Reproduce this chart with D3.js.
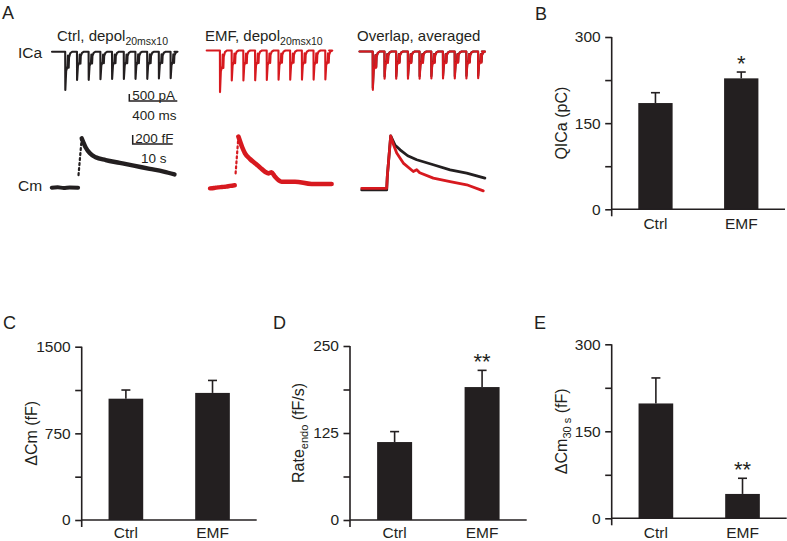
<!DOCTYPE html>
<html><head><meta charset="utf-8">
<script src="https://cdn.jsdelivr.net/npm/d3@7/dist/d3.min.js"></script>
<style>
body{margin:0;background:#fff;}
svg{display:block;}
text{font-family:Arial,"Liberation Sans",Helvetica,sans-serif;fill:#231f20;}
</style></head><body>
<svg id="c" width="787" height="541"></svg>
<script>
// ================= DATA =================
const categories = ["Ctrl", "EMF"];
// Panel B: QICa (pC)
const qicaMean = [185, 228];
const qicaSem  = [18, 11];
const qicaTicks = [0, 75, 150, 225, 300];
const qicaTickLabels = [0, 150, 300];
const qicaStars = ["", "*"];
// Panel C: ΔCm (fF)
const dcmMean = [1050, 1100];
const dcmSem  = [75, 108];
const dcmTicks = [0, 375, 750, 1125, 1500];
const dcmTickLabels = [0, 750, 1500];
const dcmStars = ["", ""];
// Panel D: Rate_endo (fF/s)
const rateMean = [112, 191];
const rateSem  = [15, 24];
const rateTicks = [0, 62.5, 125, 187.5, 250];
const rateTickLabels = [0, 125, 250];
const rateStars = ["", "**"];
// Panel E: ΔCm_30s (fF)
const dcm30Mean = [198, 42];
const dcm30Sem  = [44, 27];
const dcm30Ticks = [0, 75, 150, 225, 300];
const dcm30TickLabels = [0, 150, 300];
const dcm30Stars = ["", "**"];

// Panel A: ICa traces (ms, pA)
const pulseOnsets = [110, 208, 305, 403, 500, 598, 695, 793, 890, 988];
const icaTraceEnd = 1020;
const spikeTime = [0, 1, 8, 20, 23, 29, 32, 42, 58];          // ms after onset
const spikeFrac = [0, -1, -0.5, -0.38, -0.1, -0.42, -0.15, -0.04, 0]; // fraction of peak
const icaCtrlPeaks   = [2740, 2020, 2010, 1960, 1950, 1950, 1940, 1940, 1910, 1900];
const icaEmfPeaks    = [2970, 2140, 2140, 2130, 2100, 2090, 2090, 2080, 2080, 2070];
const icaAvgCtrlPeaks= [2610, 1790, 1780, 1780, 1770, 1770, 1760, 1760, 1750, 1750];
const icaAvgEmfPeaks = [2740, 1950, 1950, 1940, 1940, 1930, 1930, 1920, 1920, 1910];

// Panel A: Cm traces (s, fF)
const cmCtrlBaseT = [0, 1.5, 3, 4.5, 6.6];
const cmCtrlBaseV = [0, 10, -5, 5, 0];
const cmCtrlRiseT = [6.7, 7.5];
const cmCtrlRiseV = [360, 1410];
const cmCtrlDecayT = [7.5, 8.5, 9.5, 11, 13.5, 17, 20.5, 24.5, 28, 30.7];
const cmCtrlDecayV = [1410, 1150, 990, 870, 790, 710, 630, 540, 460, 380];

const cmEmfBaseT = [0, 1, 2, 3, 4, 5, 6.2];
const cmEmfBaseV = [-40, -30, -10, 0, 10, 30, 50];
const cmEmfRiseT = [6.4, 7.1];
const cmEmfRiseV = [390, 1440];
const cmEmfDecayT = [7.1, 8, 8.75, 10, 11.25, 12.5, 13.75, 14.7, 15.4, 16.2, 17.9, 21.25, 25.4, 30.4];
const cmEmfDecayV = [1440, 1150, 964, 800, 678, 560, 438, 390, 420, 300, 152, 152, 86, 86];

const cmAvgCtrlT = [0, 6.25, 6.4, 7.25, 8.3, 9.6, 11.5, 13.75, 17.9, 22.1, 26.25, 30.8];
const cmAvgCtrlV = [-45, -45, 340, 1500, 1240, 1100, 930, 815, 672, 529, 435, 292];
const cmAvgEmfT  = [0, 6.25, 6.4, 7.25, 8, 8.75, 10.4, 12.9, 13.75, 14.5, 17.9, 22.1, 26.25, 30.4];
const cmAvgEmfV  = [0, 0, 340, 1500, 1230, 1007, 721, 480, 529, 443, 292, 194, 100, -72];

// ================= DRAW =================
const svg = d3.select("#c");
const INK = "#231f20", RED = "#d7191f";

// ---- panel letters ----
const letters = [["A", 2, 18.5], ["B", 535, 19.5], ["C", 3, 328.5], ["D", 273, 328.5], ["E", 534, 328.5]];
svg.selectAll("text.letter").data(letters).join("text").attr("class", "letter")
  .attr("x", d => d[1]).attr("y", d => d[2]).attr("font-size", 18).text(d => d[0]);

// ---- bar panels ----
function barPanel(o) {
  const g = svg.append("g");
  const x = d3.scaleBand().domain(categories).range([o.x0, o.x1]).paddingInner(0.6).paddingOuter(0.31);
  const y = d3.scaleLinear().domain([0, o.max]).range([o.y0, o.yTop]);
  const bw = x.bandwidth();
  const rows = categories.map((c, i) => ({c, m: o.mean[i], e: o.sem[i], s: o.stars[i]}));
  // error bars
  g.selectAll("line.eb").data(rows).join("line").attr("class", "eb")
    .attr("x1", d => x(d.c) + bw / 2).attr("x2", d => x(d.c) + bw / 2)
    .attr("y1", d => y(d.m)).attr("y2", d => y(d.m + d.e))
    .attr("stroke", INK).attr("stroke-width", 1.6);
  g.selectAll("line.cap").data(rows).join("line").attr("class", "cap")
    .attr("x1", d => x(d.c) + bw / 2 - 4.5).attr("x2", d => x(d.c) + bw / 2 + 4.5)
    .attr("y1", d => y(d.m + d.e)).attr("y2", d => y(d.m + d.e))
    .attr("stroke", INK).attr("stroke-width", 1.6);
  // bars
  g.selectAll("rect").data(rows).join("rect")
    .attr("x", d => x(d.c)).attr("y", d => y(d.m))
    .attr("width", bw).attr("height", d => y(0) - y(d.m)).attr("fill", INK);
  // stars
  g.selectAll("text.star").data(rows.filter(d => d.s)).join("text").attr("class", "star")
    .attr("x", d => x(d.c) + bw / 2).attr("y", d => y(d.m + d.e) - 1)
    .attr("text-anchor", "middle").attr("font-size", 22).text(d => d.s);
  // y axis
  const ax = g.append("g").attr("transform", `translate(${o.x0},0)`)
    .call(d3.axisLeft(y).tickValues(o.ticks).tickSize(6.5).tickSizeOuter(0).tickPadding(4.5)
      .tickFormat(d => o.labels.includes(d) ? d3.format("d")(d) : ""));
  ax.select(".domain").remove();
  ax.selectAll(".tick line").attr("stroke", INK).attr("stroke-width", 1.6);
  ax.selectAll(".tick text").attr("font-size", 15.5).attr("fill", INK)
    .attr("font-family", "Arial, 'Liberation Sans', sans-serif");
  g.append("line").attr("x1", o.x0).attr("x2", o.x0).attr("y1", o.yTop).attr("y2", o.y0 + 7)
    .attr("stroke", INK).attr("stroke-width", 1.6);
  // x axis
  g.append("line").attr("x1", o.x0).attr("x2", o.x1).attr("y1", o.y0).attr("y2", o.y0)
    .attr("stroke", INK).attr("stroke-width", 1.6);
  g.selectAll("text.cat").data(categories).join("text").attr("class", "cat")
    .attr("x", d => x(d) + bw / 2).attr("y", Math.min(o.y0 + 19.5, 537.5))
    .attr("text-anchor", "middle").attr("font-size", 15.5).text(d => d);
  // y title
  const t = g.append("text")
    .attr("transform", `translate(${o.x0 - o.titleOff},${(o.y0 + o.yTop) / 2}) rotate(-90)`)
    .attr("text-anchor", "middle").attr("font-size", 16);
  o.title.forEach(p => {
    const ts = t.append("tspan").text(p[0]);
    if (p[1] === "sub") ts.attr("font-size", 11).attr("dy", 4);
    if (p[1] === "after") ts.attr("dy", -4);
  });
}

barPanel({x0: 611.7, x1: 785, y0: 209.3, yTop: 37, max: 300, mean: qicaMean, sem: qicaSem,
  ticks: qicaTicks, labels: qicaTickLabels, stars: qicaStars, titleOff: 44.5, title: [["QICa (pC)"]]});
barPanel({x0: 81.7, x1: 256.7, y0: 520, yTop: 346.7, max: 1500, mean: dcmMean, sem: dcmSem,
  ticks: dcmTicks, labels: dcmTickLabels, stars: dcmStars, titleOff: 44.5, title: [["ΔCm (fF)"]]});
barPanel({x0: 350, x1: 526.7, y0: 520, yTop: 346, max: 250, mean: rateMean, sem: rateSem,
  ticks: rateTicks, labels: rateTickLabels, stars: rateStars, titleOff: 46.5,
  title: [["Rate"], ["endo", "sub"], [" (fF/s)", "after"]]});
barPanel({x0: 611.7, x1: 786.7, y0: 518.3, yTop: 344.3, max: 300, mean: dcm30Mean, sem: dcm30Sem,
  ticks: dcm30Ticks, labels: dcm30TickLabels, stars: dcm30Stars, titleOff: 44.5,
  title: [["ΔCm"], ["30 s", "sub"], [" (fF)", "after"]]});

// ---- Panel A traces ----
const PX_PER_MS = 0.12, PX_PER_PA = 0.014, PX_PER_S = 4, PX_PER_FF = 0.035;
function icaScales(x0, base) {
  return {
    x: d3.scaleLinear().domain([0, icaTraceEnd]).range([x0, x0 + icaTraceEnd * PX_PER_MS]),
    y: d3.scaleLinear().domain([0, -3000]).range([base, base + 3000 * PX_PER_PA])
  };
}
function cmScales(x0, base) {
  return {
    x: d3.scaleLinear().domain([0, 31]).range([x0, x0 + 31 * PX_PER_S]),
    y: d3.scaleLinear().domain([0, 1500]).range([base, base - 1500 * PX_PER_FF])
  };
}
function icaPoints(peaks) {
  const pts = [[0, 0]];
  pulseOnsets.forEach((t0, i) => spikeTime.forEach((dt, j) => pts.push([t0 + dt, spikeFrac[j] * peaks[i]])));
  pts.push([icaTraceEnd, 0]);
  return pts;
}
function drawLine(sc, pts, color, w, dash) {
  const line = d3.line().x(d => sc.x(d[0])).y(d => sc.y(d[1])).curve(d3.curveLinear);
  const p = svg.append("path").attr("d", line(pts)).attr("fill", "none").attr("stroke", color)
    .attr("stroke-width", w).attr("stroke-linejoin", "round").attr("stroke-linecap", "round");
  if (dash) p.attr("stroke-dasharray", dash);
}
function drawSmooth(sc, pts, color, w) {
  const line = d3.line().x(d => sc.x(d[0])).y(d => sc.y(d[1])).curve(d3.curveMonotoneX);
  svg.append("path").attr("d", line(pts)).attr("fill", "none").attr("stroke", color)
    .attr("stroke-width", w).attr("stroke-linejoin", "round").attr("stroke-linecap", "round");
}
const zip = (a, b) => a.map((v, i) => [v, b[i]]);

// ICa
const icaC = icaScales(52, 51.7), icaE = icaScales(206.7, 50.5), icaO = icaScales(359.5, 51.5);
drawLine(icaC, icaPoints(icaCtrlPeaks), INK, 2.1);
drawLine(icaE, icaPoints(icaEmfPeaks), RED, 2.1);
drawLine(icaO, icaPoints(icaAvgCtrlPeaks), INK, 2.1);
drawLine(icaO, icaPoints(icaAvgEmfPeaks), RED, 2.1);

// Cm
const cmC = cmScales(51.7, 187.7), cmE = cmScales(210, 187), cmO = cmScales(361.7, 188.3);
drawSmooth(cmC, zip(cmCtrlBaseT, cmCtrlBaseV), INK, 4);
drawLine(cmC, zip(cmCtrlRiseT, cmCtrlRiseV), INK, 2.2, "2,3");
drawSmooth(cmC, zip(cmCtrlDecayT, cmCtrlDecayV), INK, 4.4);
drawSmooth(cmE, zip(cmEmfBaseT, cmEmfBaseV), RED, 4.4);
drawLine(cmE, zip(cmEmfRiseT, cmEmfRiseV), RED, 2.2, "2,3");
drawSmooth(cmE, zip(cmEmfDecayT, cmEmfDecayV), RED, 4.6);
drawLine(cmO, zip(cmAvgCtrlT, cmAvgCtrlV), INK, 2.8);
drawLine(cmO, zip(cmAvgEmfT, cmAvgEmfV), RED, 2.8);

// labels
svg.append("text").attr("x", 18).attr("y", 58).attr("font-size", 15.5).text("ICa");
svg.append("text").attr("x", 18).attr("y", 190.5).attr("font-size", 15.5).text("Cm");
function title(x, main, sub) {
  const t = svg.append("text").attr("x", x).attr("y", 41).attr("font-size", 15);
  t.append("tspan").text(main);
  if (sub) t.append("tspan").attr("font-size", 10.5).attr("dy", 3.5).text(sub);
}
title(57, "Ctrl, depol", "20msx10");
title(205, "EMF, depol", "20msx10");
title(357, "Overlap, averaged");

// scale bars (drawn with the trace scales)
const sbI = {x0: 129.3, y0: 101};
const vI = 500 * PX_PER_PA, hI = icaC.x(400) - icaC.x(0);
svg.append("path").attr("d", `M${sbI.x0},${sbI.y0 - vI}V${sbI.y0}H${sbI.x0 + hI}`)
  .attr("fill", "none").attr("stroke", INK).attr("stroke-width", 1.5);
svg.append("text").attr("x", sbI.x0 + 3).attr("y", sbI.y0 - 1.5).attr("font-size", 13.5).text("500 pA");
svg.append("text").attr("x", sbI.x0 + hI / 2 + 1).attr("y", sbI.y0 + 19).attr("text-anchor", "middle")
  .attr("font-size", 13.5).text("400 ms");
const sbC = {x0: 132.7, y0: 144};
const vC = cmC.y(0) - cmC.y(200), hC = cmC.x(10) - cmC.x(0);
svg.append("path").attr("d", `M${sbC.x0},${sbC.y0 - vC - 2}V${sbC.y0}H${sbC.x0 + hC}`)
  .attr("fill", "none").attr("stroke", INK).attr("stroke-width", 1.5);
svg.append("text").attr("x", sbC.x0 + 2.5).attr("y", sbC.y0 - 1.5).attr("font-size", 13.5).text("200 fF");
svg.append("text").attr("x", sbC.x0 + hC / 2 + 1).attr("y", sbC.y0 + 19).attr("text-anchor", "middle")
  .attr("font-size", 13.5).text("10 s");
</script>
</body></html>
